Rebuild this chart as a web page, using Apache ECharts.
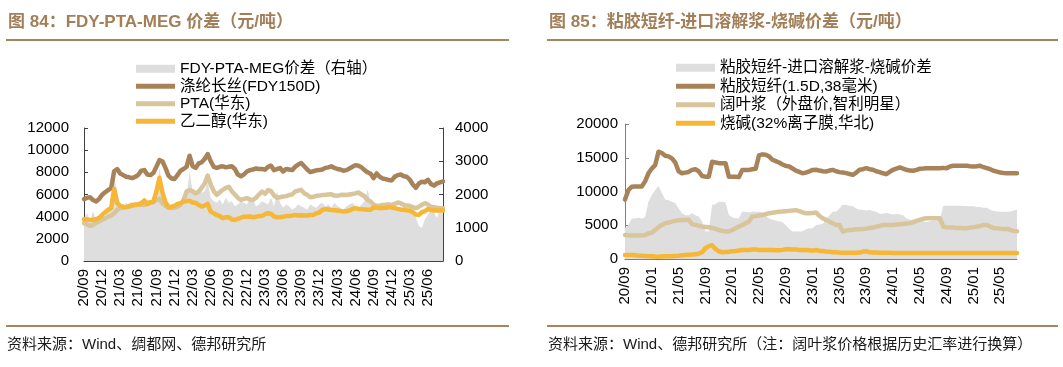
<!DOCTYPE html>
<html><head><meta charset="utf-8">
<script src="https://cdn.jsdelivr.net/npm/echarts@6/dist/echarts.min.js"></script>
<style>html,body{margin:0;padding:0;background:#fff}#c{width:1063px;height:367px}</style>
</head><body><div id="c"></div>
<script>
// ---------- categories (semi-monthly) ----------
function semiMonthly(y0, m0, y1, m1) {
  const out = [];
  let y = y0, m = m0;
  while (y < y1 || (y === y1 && m <= m1)) {
    const mm = (m < 10 ? '0' : '') + m;
    out.push(y + '-' + mm + '-01', y + '-' + mm + '-16');
    m++; if (m > 12) { m = 1; y++; }
  }
  return out;
}
const cats1 = semiMonthly(2020, 9, 2025, 8);   // 120 points
const cats2 = semiMonthly(2020, 9, 2025, 7);   // 118 points

// ---------- chart 84 data ----------
const names1 = ['FDY-PTA-MEG价差（右轴）', '涤纶长丝(FDY150D)', 'PTA(华东)', '乙二醇(华东)'];
const fdy = [5580,5700,5760,5500,5370,5600,5970,6200,6400,6580,
8100,8300,7900,7750,7600,7550,7480,7600,7780,8150,
8200,7800,7750,7950,8500,9100,9000,8400,7700,7450,
7400,7750,8150,8300,8500,9500,8550,8400,8800,8900,
9200,9650,9000,8500,8400,8500,8550,8450,8500,8550,
8300,7800,7650,7800,8080,8200,8250,8350,8300,8300,
8240,8500,8600,8200,8300,8380,8080,8300,8250,8200,
8500,8700,8840,8550,8250,8020,8100,8180,8200,8250,
8400,8450,8540,8400,8300,8250,8150,8200,8350,8500,
8650,8600,8450,8200,8000,7870,7480,7900,7600,7450,
7390,7300,7270,7600,7750,7800,7650,7600,7330,6900,
6600,7000,7150,7100,7330,6950,6800,7000,7100,7180];
const pta = [3410,3300,3170,3250,3450,3560,3710,3850,4010,4100,
4300,4620,4770,4800,4860,4900,5000,5070,5070,5100,
5050,5280,5250,5300,5520,5600,5200,5000,4800,4770,
4800,4900,5070,5500,6270,6400,6300,6100,6250,6600,
7000,7700,6900,6300,5970,6200,6420,6600,6700,6300,
6000,5700,5520,5600,5670,5550,5500,5700,6000,6270,
6060,6400,6300,5900,5700,5750,5820,5850,5950,6000,
6270,6350,6420,6100,5970,5760,5800,5880,5900,5950,
5970,6000,6030,5900,5880,5950,5970,5950,6000,6050,
6100,6180,6000,5820,5500,5370,5100,4980,4990,5050,
5070,5100,5050,5150,5280,5200,5070,5000,4980,4850,
4770,4900,5070,5220,5100,4900,4860,4800,4780,4770];
const meg = [3770,3750,3710,3720,3770,3900,4160,4400,4620,4770,
6500,5200,4980,4900,4860,4950,5070,5050,5100,5220,
5460,5100,5300,5370,6270,7500,6200,5300,4860,4900,
4980,5150,5220,5370,5400,5450,5280,5250,5050,4920,
5000,5160,4460,4300,4160,4050,3860,3950,3950,3750,
3710,3800,3900,4010,4000,4010,3950,4000,4050,4070,
4220,4310,4250,4010,3950,3950,4000,4050,4050,4100,
4160,4100,4130,4100,4100,4150,4160,4300,4370,4600,
4680,4650,4600,4580,4560,4500,4460,4480,4560,4700,
4770,4700,4680,4650,4620,4620,4830,4800,4770,4780,
4800,4860,4820,4770,4700,4650,4620,4580,4560,4400,
4200,4160,4400,4500,4680,4600,4560,4560,4560,4560];
const spread1 = [1300,1450,1200,1500,1250,1350,1400,1300,1500,1550,
2500,2100,1700,1650,1750,1600,1700,1800,1650,1750,
1850,1600,1700,1750,1900,2800,2300,1800,1650,1700,
1600,1750,1800,1700,1900,2700,2100,2000,2200,2050,
2100,2400,1900,1800,1750,1850,1700,1900,1750,1800,
1650,1700,1800,1750,1700,1900,1850,1650,1700,1800,
1750,1700,1900,1650,2100,1750,1600,1700,1650,1550,
1600,1700,1650,1600,1550,1700,1650,1600,1700,1750,
1650,1700,1600,1750,1650,1600,1550,1650,1700,1750,
1650,1600,1700,1800,2150,1800,1650,1550,1600,1650,
1600,1550,1600,1650,1600,1550,1650,1600,1500,1450,
1300,1050,1000,1250,1400,1500,1450,1300,1550,1400];

// ---------- chart 85 data ----------
const names2 = ['粘胶短纤-进口溶解浆-烧碱价差', '粘胶短纤(1.5D,38毫米)', '阔叶浆（外盘价,智利明星）', '烧碱(32%离子膜,华北)'];
const viscose = [8800,10200,10700,10740,10740,10740,11500,12700,13400,13900,
15900,15700,15300,15200,14900,14300,13000,12700,12800,12900,
13200,13300,13000,12300,12200,12200,14400,14300,14200,14200,
14200,12200,12200,12200,12130,13200,13200,13200,13300,13370,
15350,15500,15450,15200,14700,14500,14300,14000,13800,13700,
13400,13100,12900,12700,12800,12970,13200,13220,13100,13000,
12970,13100,13200,13000,12870,12800,12720,12600,12470,12800,
13220,13300,13460,13300,13220,13000,12870,12700,12570,12900,
13220,13400,13560,13400,13220,13100,13070,13200,13370,13400,
13460,13460,13460,13460,13460,13500,13460,13700,13810,13810,
13810,13810,13810,13750,13710,13750,13810,13600,13460,13300,
13070,12950,12820,12750,12720,12720,12720,12720];
const pulp = [3560,3500,3470,3470,3480,3500,3560,3800,3900,4300,
4700,5050,5300,5400,5540,5650,5740,5780,5790,5800,
5150,5050,4950,4800,4750,4700,4600,4460,4300,4160,
4100,4060,4300,4550,4800,5050,5300,5540,6290,6350,
6450,6530,6650,6780,6850,6930,7000,7030,7080,7130,
7180,7230,7100,6900,6780,6780,6800,6900,6400,6040,
5800,5540,5300,5050,5050,4060,4200,4300,4350,4400,
4400,4450,4500,4600,4650,4800,4900,5050,5050,5050,
5050,5100,5150,5200,5250,5300,5450,5640,5800,5950,
6040,6040,6040,6040,6040,4800,4700,4650,4650,4600,
4600,4550,4550,4650,4700,4800,4900,5050,5050,4800,
4600,4550,4500,4460,4460,4300,4160,4100];
const caustic = [600,590,580,550,500,480,450,420,400,360,
350,370,400,410,420,450,480,550,590,620,
650,700,800,1000,1600,1900,2050,1500,1150,1000,
1050,1090,1150,1190,1250,1340,1340,1350,1390,1390,
1350,1340,1340,1350,1340,1300,1290,1350,1440,1440,
1400,1390,1350,1340,1340,1300,1240,1340,1200,1190,
1100,1090,1000,990,950,940,940,940,940,940,
950,1100,1140,1000,980,960,940,940,940,920,
900,890,890,890,890,890,890,890,890,890,
890,890,890,890,890,890,890,890,890,890,
890,890,890,890,890,890,890,890,890,890,
890,890,890,890,890,890,890,890];
const spread2 = [4600,5000,6000,6000,6100,6000,6200,8500,9500,10200,
10800,9800,8800,8700,8500,8300,7500,6800,6500,6500,
6800,6500,6300,5540,4100,4060,8020,8100,8500,8500,
8400,6530,6200,6040,6040,7030,7000,6900,7030,7000,
7000,6900,6500,6000,5800,5700,5600,5500,5000,4500,
4060,4060,4060,4100,4400,4550,4550,5050,5100,5200,
5800,6500,7000,7030,7500,8020,8000,7900,7800,7500,
7300,7300,7200,7300,7100,7000,6700,6700,6800,6700,
6600,6700,6600,6500,6000,5800,5800,5700,5600,5600,
5500,5600,5700,5700,5800,7900,7900,7900,7900,7900,
7900,7850,7800,7800,7800,7700,7700,7600,7600,7300,
7100,7050,7000,7000,7000,7050,7200,7300];

// ---------- styling ----------
const FONT = '"Liberation Sans", Arial, "Noto Sans CJK SC", sans-serif';
const C_BROWN = '#a8835a', C_TAN = '#d9c59c', C_ORANGE = '#f5b735', C_GREY = '#dedede';
const C_TITLE = '#a27f59';
const fmt = v => v.slice(2, 4) + '/' + v.slice(5, 7);
const LINE_ICON = 'path://M0,0L40,0L40,5L0,5Z';

function xAxis(grid, data, step, axisColor) {
  return {
    type: 'category', gridIndex: grid, data: data, boundaryGap: false,
    axisLine: { lineStyle: { color: axisColor, width: 1 } },
    axisTick: { inside: true, length: 4, interval: step - 1, lineStyle: { color: axisColor } },
    axisLabel: { interval: step - 1, rotate: 90, margin: 8, formatter: fmt, color: '#000', fontSize: 15, fontFamily: FONT },
    splitLine: { show: false }
  };
}
function yAxis(grid, max, interval, pos, margin, axisColor) {
  return {
    type: 'value', gridIndex: grid, min: 0, max: max, interval: interval, position: pos,
    axisLine: { show: true, lineStyle: { color: axisColor } },
    axisTick: { show: true, inside: true, length: 4, lineStyle: { color: axisColor } },
    axisLabel: { margin: margin, color: '#000', fontSize: 15, fontFamily: FONT, formatter: v => String(v) },
    splitLine: { show: false }
  };
}
function line(name, data, color, xi, yi) {
  return { name, type: 'line', data, xAxisIndex: xi, yAxisIndex: yi, symbol: 'none',
    lineStyle: { color, width: 4.5, cap: 'round', join: 'round' }, itemStyle: { color }, z: 3 };
}
function area(name, data, xi, yi) {
  return { name, type: 'line', data, xAxisIndex: xi, yAxisIndex: yi, symbol: 'none',
    lineStyle: { width: 0, color: C_GREY }, itemStyle: { color: C_GREY },
    areaStyle: { color: C_GREY, opacity: 1 }, z: 1 };
}
function legend(left, top, names, gap) {
  return {
    orient: 'vertical', left, top, itemWidth: 39, itemHeight: 8, itemGap: gap, padding: 0,
    textStyle: { fontSize: 15.5, color: '#000', fontFamily: FONT, lineHeight: 15 },
    data: [
      { name: names[0], icon: 'rect', itemStyle: { color: C_GREY } },
      { name: names[1], icon: LINE_ICON, itemStyle: { color: C_BROWN } },
      { name: names[2], icon: LINE_ICON, itemStyle: { color: C_TAN } },
      { name: names[3], icon: LINE_ICON, itemStyle: { color: C_ORANGE } }
    ]
  };
}

const chart = echarts.init(document.getElementById('c'), null, { renderer: 'canvas' });
chart.setOption({
  animation: false,
  backgroundColor: '#fff',
  title: [
    { text: '图 84：FDY-PTA-MEG 价差（元/吨）', left: 8, top: 14, padding: 0,
      textStyle: { fontSize: 17, fontWeight: 'bold', color: C_TITLE, fontFamily: FONT } },
    { text: '图 85：粘胶短纤-进口溶解浆-烧碱价差（元/吨）', left: 549, top: 14, padding: 0,
      textStyle: { fontSize: 17, fontWeight: 'bold', color: C_TITLE, fontFamily: FONT } },
    { text: '资料来源：Wind、绸都网、德邦研究所', left: 7, top: 337, padding: 0,
      textStyle: { fontSize: 15, fontWeight: 'normal', color: '#1a1a1a', fontFamily: FONT } },
    { text: '资料来源：Wind、德邦研究所（注：阔叶浆价格根据历史汇率进行换算）', left: 548, top: 337, padding: 0,
      textStyle: { fontSize: 15, fontWeight: 'normal', color: '#1a1a1a', fontFamily: FONT } }
  ],
  graphic: [
    { type: 'rect', shape: { x: 6, y: 39, width: 503, height: 2 }, style: { fill: '#a5845e' } },
    { type: 'rect', shape: { x: 547, y: 39, width: 511, height: 2 }, style: { fill: '#a5845e' } },
    { type: 'rect', shape: { x: 6, y: 325, width: 503, height: 2 }, style: { fill: '#a5845e' } },
    { type: 'rect', shape: { x: 547, y: 325, width: 511, height: 2 }, style: { fill: '#a5845e' } }
  ],
  legend: [legend(136, 61, names1, 2), legend(676, 60, names2, 3)],
  grid: [
    { left: 84, top: 128, width: 359, height: 133 },
    { left: 625, top: 124, width: 392, height: 135 }
  ],
  xAxis: [xAxis(0, cats1, 6, '#404040'), xAxis(1, cats2, 8, '#808080')],
  yAxis: [
    yAxis(0, 12000, 2000, 'left', 15, '#404040'),
    yAxis(0, 4000, 1000, 'right', 12, '#404040'),
    yAxis(1, 20000, 5000, 'left', 7, '#808080')
  ],
  series: [
    area(names1[0], spread1, 0, 1),
    line(names1[1], fdy, C_BROWN, 0, 0),
    line(names1[2], pta, C_TAN, 0, 0),
    line(names1[3], meg, C_ORANGE, 0, 0),
    area(names2[0], spread2, 1, 2),
    line(names2[1], viscose, C_BROWN, 1, 2),
    line(names2[2], pulp, C_TAN, 1, 2),
    line(names2[3], caustic, C_ORANGE, 1, 2)
  ]
});
</script></body></html>
